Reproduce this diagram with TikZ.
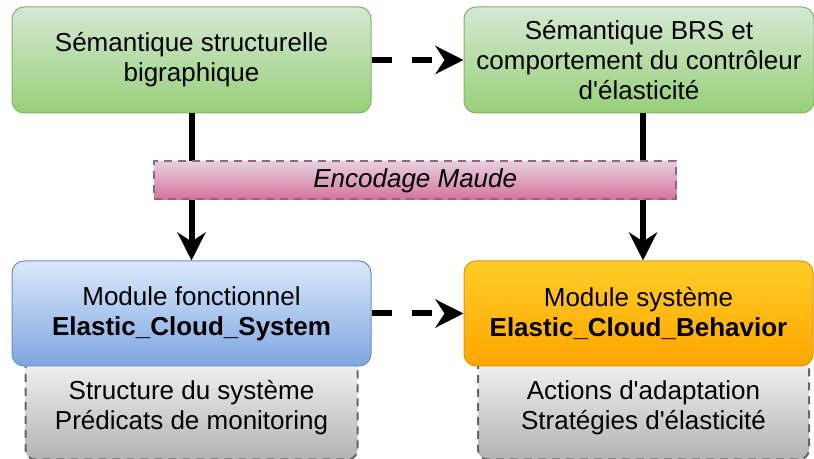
\documentclass[tikz,border=0pt]{standalone}
\usepackage{fontspec}
\setmainfont{Liberation Sans}[Ligatures=TeXOff]
\usepackage{tikz}
\usetikzlibrary{arrows.meta,positioning,calc,backgrounds}
\definecolor{semTop}{HTML}{D5E8D4}
\definecolor{semBot}{HTML}{97D077}
\definecolor{semBd}{HTML}{82B366}
\definecolor{sysTop}{HTML}{DAE8FC}
\definecolor{sysBot}{HTML}{7EA6E0}
\definecolor{sysBd}{HTML}{6C8EBF}
\definecolor{behTop}{HTML}{FFCD28}
\definecolor{behBot}{HTML}{FFA500}
\definecolor{behBd}{HTML}{D79B00}
\definecolor{encTop}{HTML}{E6D0DE}
\definecolor{encBot}{HTML}{D5739D}
\definecolor{encBd}{HTML}{996185}
\definecolor{detTop}{HTML}{F5F5F5}
\definecolor{detBot}{HTML}{B3B3B3}
\definecolor{detBd}{HTML}{666666}
\newcommand\labelfont{\fontsize{13}{15}\selectfont}
\tikzset{
  stage/.style={
    rectangle, rounded corners=6pt, line width=0.5pt,
    minimum height=53pt, align=center, font=\labelfont,
    inner sep=3pt
  },
  sem/.style   ={stage, top color=semTop, bottom color=semBot, draw=semBd},
  modsys/.style={stage, top color=sysTop, bottom color=sysBot, draw=sysBd, minimum height=52.5pt},
  modbeh/.style={stage, top color=behTop, bottom color=behBot, draw=behBd, minimum height=52.5pt},
  enc/.style={
    rectangle, top color=encTop, bottom color=encBot, draw=encBd,
    line width=1pt, dash pattern=on 4pt off 3pt,
    minimum width=261pt, minimum height=19pt, inner sep=1pt,
    font=\labelfont\itshape
  },
  detail/.style={
    rectangle, rounded corners=5pt, top color=detTop, bottom color=detBot,
    draw=detBd, line width=1pt, dash pattern=on 4pt off 3pt,
    minimum height=52pt, align=center, font=\labelfont, inner sep=2pt
  },
  flow/.style ={-{Stealth[length=14pt,width=14pt,inset=4.5pt]}, line width=3pt, draw=black},
  dflow/.style={flow, dash pattern=on 10pt off 10pt}
}
\begin{document}
\begin{tikzpicture}
  \useasboundingbox (0,0) rectangle (407pt,-229.5pt);
  % semantics
  \node[sem, minimum width=179.5pt] (sysSem) at (95.75pt,-30pt) {Sémantique structurelle\\bigraphique};
  \node[sem, right=46pt of sysSem, minimum width=175pt] (brsSem) {Sémantique BRS et\\comportement du contrôleur\\d'élasticité};

  % Maude modules
  \node[modsys, below=73.5pt of sysSem, minimum width=179.5pt] (sysMod) {Module fonctionnel\\\textbf{Elastic\_Cloud\_System}};
  \node[modbeh, right=46pt of sysMod, minimum width=174.5pt] (behMod) {Module système\\\textbf{Elastic\_Cloud\_Behavior}};

  % arrows
  \draw[flow] (sysSem) -- (sysMod);
  \draw[flow] ([xshift=2pt]brsSem.south) -- ([xshift=2pt]brsSem.south |- behMod.north);
  \draw[dflow] (sysSem) -- (brsSem);
  \draw[dflow] (sysMod) -- (behMod);

  % encoding band over the arrows
  \node[enc, below=23.5pt of $(sysSem.south)!0.5!(brsSem.south)$] (enc) {Encodage Maude};

  % module contents, tucked under the modules
  \begin{scope}[on background layer]
    \node[detail, below=-6pt of sysMod, minimum width=166pt] (sysDet) {Structure du système\\Prédicats de monitoring};
    \node[detail, below=-6pt of behMod, xshift=2.5pt, minimum width=165.5pt] (behDet) {Actions d'adaptation\\Stratégies d'élasticité};
  \end{scope}
\end{tikzpicture}
\end{document}
